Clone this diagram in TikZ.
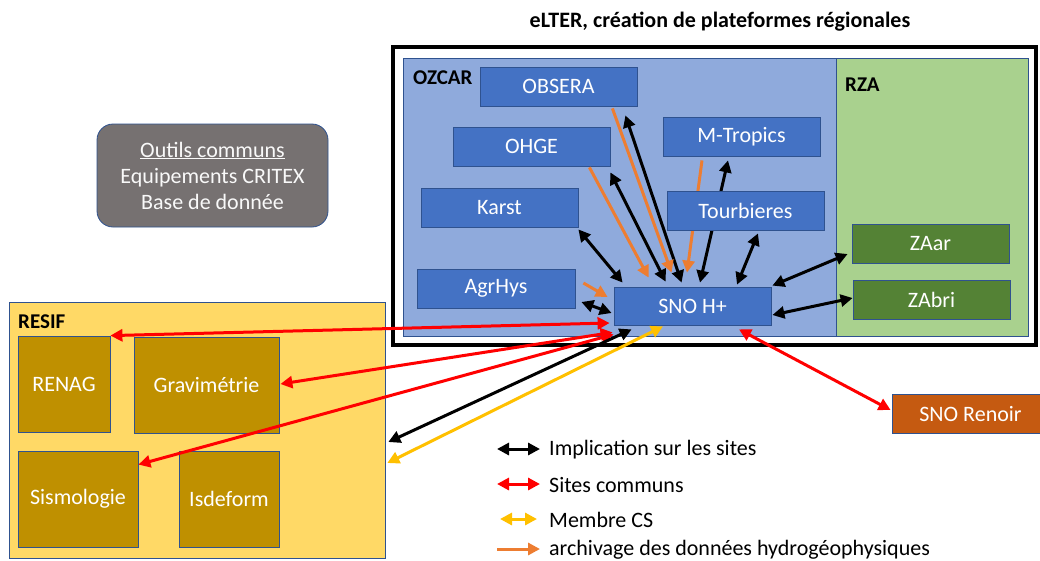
\documentclass[tikz,border=0pt]{standalone}
\usepackage{fontspec}
\setmainfont{Carlito}
\usetikzlibrary{arrows.meta,calc}
\definecolor{boxblue}{HTML}{4472C4}
\definecolor{boxborder}{HTML}{2F528F}
\definecolor{ozcarbg}{HTML}{8FAADC}
\definecolor{rzabg}{HTML}{A9D18E}
\definecolor{zagreen}{HTML}{548235}
\definecolor{resifbg}{HTML}{FFD966}
\definecolor{resifbox}{HTML}{BF9000}
\definecolor{renoirc}{HTML}{C55A11}
\definecolor{outilsgray}{HTML}{767171}
\definecolor{arrorange}{HTML}{ED7D31}
\definecolor{arryellow}{HTML}{FFC000}
\definecolor{arrred}{HTML}{FF0000}
\tikzset{
  fs/.style={font=\fontsize{22}{26}\selectfont},
  bluebox/.style={fs, draw=boxborder, line width=0.8pt, fill=boxblue, text=white, minimum width=157, minimum height=39, inner sep=0},
  greenbox/.style={bluebox, fill=zagreen},
  goldbox/.style={fs, draw=boxborder, line width=0.8pt, fill=resifbox, text=white, inner sep=0, minimum height=96},
  panel/.style={draw=boxborder, line width=0.6pt},
  conn/.style={line width=3pt, arrows={-Triangle[length=12pt,width=12pt]}},
  dconn/.style={line width=3pt, arrows={Triangle[length=12pt,width=12pt]-Triangle[length=12pt,width=12pt]}},
  blk/.style={dconn, draw=black},
  rd/.style={dconn, draw=arrred},
  yl/.style={dconn, draw=arryellow},
  og/.style={conn, draw=arrorange},
  lbl/.style={font=\fontsize{21}{24}\selectfont\bfseries, anchor=west, inner sep=0},
  legtext/.style={fs, anchor=west, inner sep=0}
}
\begin{document}
\begin{tikzpicture}[x=1pt,y=-1pt]
\clip (0,0) rectangle (1040,560);
\fill[white] (0,0) rectangle (1040,560);

% title
\node[font=\fontsize{22}{26}\selectfont\bfseries, inner sep=0] (title) at (720,22) {eLTER, création de plateformes régionales};

% panels
\draw[panel, fill=ozcarbg] (403,58) rectangle (836,336);
\draw[panel, fill=rzabg] (836,58) rectangle (1028,336);
\node[lbl] (ozcar) at (413,78) {OZCAR};
\node[lbl] (rza) at (845,85) {RZA};

\node[panel, fill=resifbg, minimum width=376, minimum height=256, inner sep=0] (resif) at (197,430) {};
\node[lbl] (resiflbl) at (18,322) {RESIF};

% outils communs
\node[fs, draw=boxborder, line width=0.8pt, fill=outilsgray, text=white!95!gray, rounded corners=16pt, minimum width=231, minimum height=103, align=center, inner sep=0] (outils) at (212.5,175.5) {\underline{Outils communs}\\Equipements CRITEX\\Base de donnée};

% OZCAR boxes
\node[bluebox] (obsera) at (558.5,86.5) {OBSERA};
\node[bluebox] (ohge) at (531.5,146.5) {OHGE};
\node[bluebox] (karst) at (499.5,207.5) {Karst};
\node[bluebox, minimum width=158] (agrhys) at (496,288.5) {AgrHys};
\node[bluebox, minimum height=38] (snoh) at (692.5,306) {SNO H+};
\node[bluebox] (mtropics) at (741.5,136.5) {M-Tropics};

% RZA boxes
\node[greenbox] (zaar) at (930.5,243.5) {ZAar};
\node[greenbox] (zabri) at (931.5,299.5) {ZAbri};

% SNO Renoir
\node[bluebox, fill=renoirc, minimum width=157] (renoir) at (970.5,413.5) {SNO Renoir};

% RESIF boxes
\node[goldbox, minimum width=92] (renag) at (64,384) {RENAG};
\node[goldbox, minimum width=145] (grav) at (206.5,385) {Gravimétrie};
\node[goldbox, minimum width=120] (sismo) at (78,499) {Sismologie};
\node[goldbox, minimum width=100] (isdeform) at (229,499) {Isdeform};

% arrows passing behind Tourbieres
\draw[blk] ($(mtropics.south)+(-13.5,4)$) -- ($(snoh.north)+(7.5,-4)$);
\draw[og] ($(mtropics.south)+(-39.5,4)$) -- ($(snoh.north)+(-5.5,-14)$);
\node[bluebox] (tourb) at (745.5,210.5) {Tourbieres};

% black frame
\draw[line width=4pt] (393,47) rectangle (1036,345);

% black arrows
\draw[blk] ($(karst.south east)+(0,2)$) -- ($(snoh.north west)+(9,-4)$);
\draw[blk] ($(ohge.south east)+(0,6)$) -- ($(snoh.north west)+(52,-5)$);
\draw[blk] ($(obsera.south east)+(-12,9)$) -- ($(snoh.north west)+(68,-4)$);
\draw[blk] ($(tourb.south)+(12.5,3)$) -- ($(snoh.north)+(44.5,-2)$);
\draw[blk] ($(zaar.west)+(-4,10.5)$) -- ($(snoh.north east)+(1,-1)$);
\draw[blk] ($(zabri.west)+(0,-1.5)$) -- ($(snoh.east)+(1,9)$);
\draw[blk] ($(agrhys.east)+(6,13.5)$) -- ($(snoh.west)+(-2,7)$);

% orange arrows
\draw[og] ($(obsera.south east)+(-25,2)$) -- ($(snoh.north west)+(58,-14)$);
\draw[og] ($(ohge.south east)+(-21,1)$) -- ($(snoh.north west)+(35,-9)$);
\draw[og] ($(agrhys.east)+(8,-5.5)$) -- ($(snoh.west)+(-6,-9)$);

% red arrows
\draw[rd] ($(snoh.west)+(-4,17)$) -- (renag.north east);
\draw[rd] ($(snoh.south west)+(-1,7)$) -- ($(grav.east)+(1,-1)$);
\draw[rd] ($(snoh.south west)+(0,9)$) -- ($(sismo.north east)+(0,14)$);
\draw[rd] ($(snoh.south)+(46.5,4)$) -- ($(renoir.west)+(-1,-3.5)$);

% RESIF links
\draw[blk] ($(snoh.south west)+(18,4)$) -- ($(resif.east)+(3,12)$);
\draw[yl] ($(snoh.south)+(-29.5,1)$) -- ($(resif.east)+(2,33)$);

% legend
\coordinate (l1a) at (497,449); \coordinate (l1b) at (540,449);
\coordinate (l2a) at (497,484); \coordinate (l2b) at (540,484);
\coordinate (l3a) at (500,519); \coordinate (l3b) at (537,519);
\coordinate (l4a) at (497,549); \coordinate (l4b) at (540,549);
\draw[blk] (l1a) -- (l1b);
\draw[rd] (l2a) -- (l2b);
\draw[yl] (l3a) -- (l3b);
\draw[og] (l4a) -- (l4b);
\node[legtext] (t1) at (549,450) {Implication sur les sites};
\node[legtext] (t2) at (549,485) {Sites communs};
\node[legtext] (t3) at (549,520) {Membre CS};
\node[legtext] (t4) at (549,550) {archivage des données hydrogéophysiques};
\end{tikzpicture}
\end{document}
